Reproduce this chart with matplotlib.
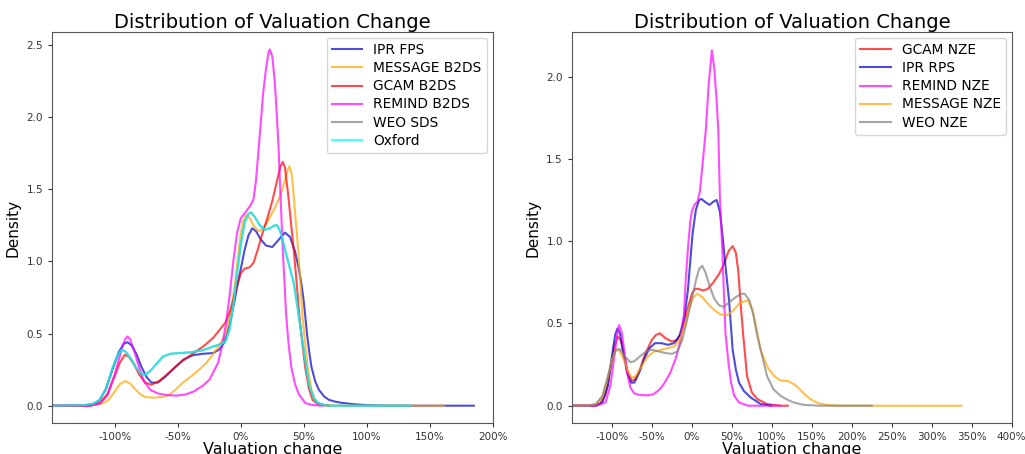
import matplotlib
matplotlib.use("Agg")
import matplotlib.pyplot as plt
from matplotlib.ticker import FuncFormatter

# density curves as (valuation change, density) pairs
# --- left panel ---
ipr_fps = [(-1.5, 0), (-1.25, 0), (-1.17, 0.01), (-1.12, 0.04), (-1.07, 0.12), (-1.02, 0.25), (-0.97, 0.37),
           (-0.93, 0.43), (-0.9, 0.44), (-0.87, 0.42), (-0.83, 0.36), (-0.79, 0.27), (-0.75, 0.2), (-0.71, 0.16),
           (-0.66, 0.16), (-0.6, 0.2), (-0.53, 0.26), (-0.455, 0.32), (-0.38, 0.35), (-0.3, 0.36), (-0.22, 0.365),
           (-0.17, 0.39), (-0.13, 0.44), (-0.09, 0.56), (-0.05, 0.73), (-0.02, 0.87), (0.0, 0.95), (0.03, 1.08),
           (0.06, 1.18), (0.09, 1.23), (0.12, 1.21), (0.16, 1.15), (0.2, 1.11), (0.25, 1.1), (0.3, 1.15),
           (0.35, 1.2), (0.39, 1.17), (0.43, 1.07), (0.46, 0.95), (0.48, 0.85), (0.5, 0.72), (0.525, 0.5),
           (0.545, 0.36), (0.56, 0.27), (0.59, 0.17), (0.62, 0.11), (0.66, 0.065), (0.7, 0.04), (0.75, 0.028),
           (0.8, 0.02), (0.9, 0.01), (1.0, 0.004), (1.1, 0.001), (1.2, 0), (1.85, 0)]

message_b2ds = [(-1.5, 0), (-1.2, 0), (-1.1, 0.015), (-1.05, 0.04), (-1.0, 0.1), (-0.96, 0.15), (-0.92, 0.17),
                (-0.88, 0.155), (-0.84, 0.115), (-0.8, 0.08), (-0.76, 0.06), (-0.7, 0.056), (-0.62, 0.06),
                (-0.57, 0.075), (-0.52, 0.11), (-0.46, 0.16), (-0.4, 0.2), (-0.33, 0.25), (-0.27, 0.3),
                (-0.22, 0.36), (-0.17, 0.42), (-0.12, 0.5), (-0.08, 0.65), (-0.05, 0.82), (-0.02, 1.05),
                (0.0, 1.2), (0.02, 1.28), (0.04, 1.32), (0.07, 1.3), (0.1, 1.25), (0.14, 1.21), (0.18, 1.23),
                (0.22, 1.29), (0.27, 1.37), (0.31, 1.45), (0.35, 1.56), (0.37, 1.63), (0.386, 1.66),
                (0.405, 1.6), (0.425, 1.4), (0.44, 1.24), (0.455, 1.08), (0.475, 0.83), (0.49, 0.62),
                (0.51, 0.44), (0.53, 0.27), (0.56, 0.11), (0.59, 0.04), (0.63, 0.012), (0.7, 0.002),
                (0.8, 0), (1.61, 0)]

gcam_b2ds = [(-1.5, 0), (-1.2, 0), (-1.12, 0.02), (-1.06, 0.08), (-1.0, 0.21), (-0.96, 0.3), (-0.92, 0.354),
             (-0.89, 0.34), (-0.85, 0.29), (-0.81, 0.22), (-0.76, 0.16), (-0.71, 0.145), (-0.65, 0.17),
             (-0.57, 0.23), (-0.48, 0.3), (-0.4, 0.35), (-0.3, 0.41), (-0.22, 0.47), (-0.165, 0.53),
             (-0.12, 0.58), (-0.08, 0.67), (-0.04, 0.8), (0.0, 0.92), (0.03, 0.95), (0.07, 0.96), (0.1, 0.99),
             (0.13, 1.07), (0.17, 1.19), (0.21, 1.3), (0.25, 1.42), (0.29, 1.57), (0.315, 1.66), (0.333, 1.69),
             (0.35, 1.65), (0.375, 1.47), (0.4, 1.25), (0.42, 1.08), (0.445, 0.83), (0.465, 0.62), (0.49, 0.42),
             (0.51, 0.27), (0.54, 0.12), (0.57, 0.04), (0.61, 0.012), (0.66, 0.002), (0.7, 0)]

remind_b2ds = [(-1.5, 0), (-1.2, 0), (-1.12, 0.015), (-1.06, 0.07), (-1.0, 0.22), (-0.95, 0.38), (-0.92, 0.46),
               (-0.9, 0.48), (-0.88, 0.46), (-0.85, 0.39), (-0.81, 0.27), (-0.77, 0.17), (-0.72, 0.11),
               (-0.66, 0.085), (-0.58, 0.073), (-0.51, 0.07), (-0.44, 0.077), (-0.37, 0.1), (-0.3, 0.14),
               (-0.25, 0.18), (-0.22, 0.23), (-0.18, 0.3), (-0.15, 0.41), (-0.12, 0.56), (-0.09, 0.76),
               (-0.06, 1.0), (-0.03, 1.2), (0.0, 1.3), (0.035, 1.34), (0.07, 1.38), (0.1, 1.43), (0.12, 1.56),
               (0.147, 1.84), (0.175, 2.15), (0.2, 2.34), (0.22, 2.45), (0.23, 2.47), (0.25, 2.42), (0.27, 2.24),
               (0.285, 2.02), (0.3, 1.78), (0.315, 1.45), (0.333, 1.08), (0.36, 0.62), (0.38, 0.42), (0.4, 0.27),
               (0.43, 0.15), (0.46, 0.08), (0.51, 0.02), (0.56, 0.005), (0.65, 0)]

oxford = [(-1.5, 0), (-1.25, 0.003), (-1.17, 0.015), (-1.12, 0.04), (-1.07, 0.12), (-1.02, 0.26), (-0.98, 0.35),
          (-0.944, 0.39), (-0.91, 0.37), (-0.87, 0.32), (-0.83, 0.26), (-0.79, 0.22), (-0.76, 0.215),
          (-0.72, 0.24), (-0.67, 0.29), (-0.62, 0.34), (-0.56, 0.36), (-0.48, 0.365), (-0.4, 0.37),
          (-0.3, 0.385), (-0.22, 0.41), (-0.15, 0.43), (-0.12, 0.45), (-0.09, 0.53), (-0.06, 0.7),
          (-0.03, 0.92), (0.0, 1.12), (0.03, 1.27), (0.06, 1.33), (0.08, 1.34), (0.11, 1.31), (0.15, 1.25),
          (0.19, 1.22), (0.23, 1.23), (0.27, 1.25), (0.29, 1.25), (0.32, 1.19), (0.36, 1.05), (0.39, 0.95),
          (0.42, 0.85), (0.45, 0.68), (0.48, 0.5), (0.51, 0.32), (0.54, 0.15), (0.58, 0.05), (0.61, 0.02),
          (0.66, 0.005), (0.7, 0), (1.35, 0)]

# WEO SDS sits under the Oxford curve in the picture
weo_sds = list(oxford)

# --- right panel ---
gcam_nze = [(-1.5, 0), (-1.25, 0), (-1.15, 0.01), (-1.08, 0.07), (-1.02, 0.22), (-0.97, 0.36), (-0.93, 0.42),
            (-0.89, 0.4), (-0.85, 0.31), (-0.8, 0.2), (-0.75, 0.15), (-0.71, 0.16), (-0.65, 0.22), (-0.58, 0.32),
            (-0.5, 0.4), (-0.45, 0.43), (-0.4, 0.44), (-0.33, 0.41), (-0.25, 0.39), (-0.18, 0.4), (-0.12, 0.46),
            (-0.06, 0.58), (0.0, 0.68), (0.04, 0.71), (0.08, 0.71), (0.14, 0.7), (0.2, 0.71), (0.27, 0.75),
            (0.34, 0.8), (0.4, 0.86), (0.46, 0.94), (0.51, 0.97), (0.55, 0.93), (0.58, 0.82), (0.61, 0.62),
            (0.64, 0.44), (0.69, 0.18), (0.75, 0.08), (0.82, 0.04), (0.94, 0.01), (1.1, 0), (1.2, 0)]

ipr_rps = [(-1.5, 0), (-1.2, 0), (-1.12, 0.02), (-1.05, 0.12), (-1.0, 0.3), (-0.96, 0.43), (-0.93, 0.47),
           (-0.9, 0.44), (-0.86, 0.33), (-0.81, 0.2), (-0.76, 0.14), (-0.72, 0.14), (-0.66, 0.2), (-0.6, 0.28),
           (-0.53, 0.35), (-0.46, 0.38), (-0.38, 0.38), (-0.3, 0.37), (-0.22, 0.38), (-0.15, 0.43),
           (-0.09, 0.55), (-0.05, 0.7), (-0.02, 0.88), (0.01, 1.05), (0.05, 1.19), (0.09, 1.25), (0.12, 1.256),
           (0.16, 1.24), (0.22, 1.22), (0.27, 1.24), (0.31, 1.25), (0.35, 1.18), (0.38, 1.05), (0.42, 0.85),
           (0.465, 0.64), (0.51, 0.34), (0.55, 0.22), (0.59, 0.14), (0.65, 0.09), (0.735, 0.05), (0.86, 0.01),
           (1.0, 0)]

remind_nze = [(-1.5, 0), (-1.2, 0), (-1.08, 0.02), (-1.02, 0.12), (-0.97, 0.3), (-0.93, 0.45), (-0.91, 0.49),
              (-0.88, 0.45), (-0.85, 0.35), (-0.81, 0.2), (-0.77, 0.11), (-0.72, 0.075), (-0.65, 0.065),
              (-0.55, 0.063), (-0.48, 0.07), (-0.4, 0.1), (-0.34, 0.14), (-0.27, 0.2), (-0.2, 0.29),
              (-0.14, 0.4), (-0.1, 0.55), (-0.075, 0.78), (-0.05, 0.95), (-0.02, 1.12), (0.0, 1.18),
              (0.03, 1.22), (0.07, 1.24), (0.1, 1.3), (0.14, 1.5), (0.175, 1.68), (0.21, 1.95), (0.25, 2.16),
              (0.28, 2.05), (0.31, 1.85), (0.33, 1.68), (0.35, 1.27), (0.38, 0.95), (0.42, 0.44), (0.46, 0.25),
              (0.49, 0.14), (0.53, 0.06), (0.59, 0.02), (0.7, 0), (1.1, 0)]

message_nze = [(-1.5, 0), (-1.3, 0), (-1.2, 0.01), (-1.12, 0.05), (-1.05, 0.17), (-1.0, 0.28), (-0.95, 0.34),
               (-0.9, 0.33), (-0.85, 0.28), (-0.8, 0.21), (-0.75, 0.17), (-0.7, 0.18), (-0.63, 0.24),
               (-0.55, 0.3), (-0.47, 0.33), (-0.38, 0.34), (-0.3, 0.35), (-0.22, 0.36), (-0.15, 0.4),
               (-0.08, 0.5), (-0.03, 0.6), (0.02, 0.66), (0.07, 0.68), (0.13, 0.66), (0.2, 0.62), (0.28, 0.58),
               (0.36, 0.555), (0.445, 0.55), (0.52, 0.58), (0.6, 0.625), (0.7, 0.64), (0.76, 0.58),
               (0.81, 0.46), (0.86, 0.34), (0.95, 0.23), (1.03, 0.18), (1.1, 0.155), (1.2, 0.15), (1.28, 0.13),
               (1.35, 0.1), (1.42, 0.065), (1.5, 0.035), (1.58, 0.015), (1.7, 0.004), (1.85, 0), (3.37, 0)]

weo_nze = [(-1.5, 0), (-1.3, 0), (-1.2, 0.01), (-1.12, 0.06), (-1.05, 0.18), (-1.0, 0.28), (-0.95, 0.34),
           (-0.9, 0.345), (-0.84, 0.3), (-0.77, 0.265), (-0.72, 0.27), (-0.65, 0.3), (-0.57, 0.33),
           (-0.5, 0.34), (-0.42, 0.33), (-0.33, 0.32), (-0.25, 0.315), (-0.18, 0.33), (-0.12, 0.4),
           (-0.06, 0.52), (0.0, 0.65), (0.05, 0.76), (0.09, 0.83), (0.13, 0.85), (0.17, 0.81), (0.22, 0.73),
           (0.28, 0.65), (0.34, 0.61), (0.4, 0.6), (0.47, 0.63), (0.55, 0.66), (0.62, 0.68), (0.66, 0.68),
           (0.72, 0.64), (0.77, 0.55), (0.82, 0.42), (0.88, 0.3), (0.94, 0.18), (1.02, 0.1), (1.11, 0.06),
           (1.2, 0.035), (1.27, 0.02), (1.4, 0.005), (1.6, 0), (2.25, 0)]

left_series = [
    ("IPR FPS", ipr_fps, "mediumblue"),
    ("MESSAGE B2DS", message_b2ds, "orange"),
    ("GCAM B2DS", gcam_b2ds, "red"),
    ("REMIND B2DS", remind_b2ds, "magenta"),
    ("WEO SDS", weo_sds, "grey"),
    ("Oxford", oxford, "cyan"),
]
right_series = [
    ("GCAM NZE", gcam_nze, "red"),
    ("IPR RPS", ipr_rps, "mediumblue"),
    ("REMIND NZE", remind_nze, "magenta"),
    ("MESSAGE NZE", message_nze, "orange"),
    ("WEO NZE", weo_nze, "grey"),
]

pct = FuncFormatter(lambda v, pos: f"{v * 100:.0f}%")

fig = plt.figure(figsize=(10.25, 4.54), dpi=100)
ax1 = fig.add_axes([0.0507, 0.0683, 0.430, 0.861])
ax2 = fig.add_axes([0.558, 0.0683, 0.429, 0.861])


def draw(ax, series, xlim, ylim, xticks, yticks):
    for name, pts, col in series:
        xs = [p[0] for p in pts]
        ys = [p[1] for p in pts]
        ax.plot(xs, ys, color=col, alpha=0.7, lw=1.5, label=name)
    ax.set_xlim(*xlim)
    ax.set_ylim(*ylim)
    ax.set_xticks(xticks)
    ax.set_yticks(yticks)
    ax.xaxis.set_major_formatter(pct)
    ax.tick_params(labelsize=7.5, colors="#333333", length=3)
    for sp in ax.spines.values():
        sp.set_color("#555555")
    ax.set_title("Distribution of Valuation Change", fontsize=14, pad=3)
    ax.set_xlabel("Valuation change", fontsize=11.5, labelpad=0)
    ax.set_ylabel("Density", fontsize=11)
    ax.legend(loc="upper right", fontsize=9.9, handlelength=2.2, labelspacing=0.3,
              borderaxespad=0.4)


draw(ax1, left_series, (-1.5, 2.0), (-0.12, 2.59),
     [-1.0, -0.5, 0.0, 0.5, 1.0, 1.5, 2.0], [0.0, 0.5, 1.0, 1.5, 2.0, 2.5])
draw(ax2, right_series, (-1.5, 4.0), (-0.105, 2.27),
     [-1.0, -0.5, 0.0, 0.5, 1.0, 1.5, 2.0, 2.5, 3.0, 3.5, 4.0], [0.0, 0.5, 1.0, 1.5, 2.0])

fig.savefig("out.png", dpi=100)
